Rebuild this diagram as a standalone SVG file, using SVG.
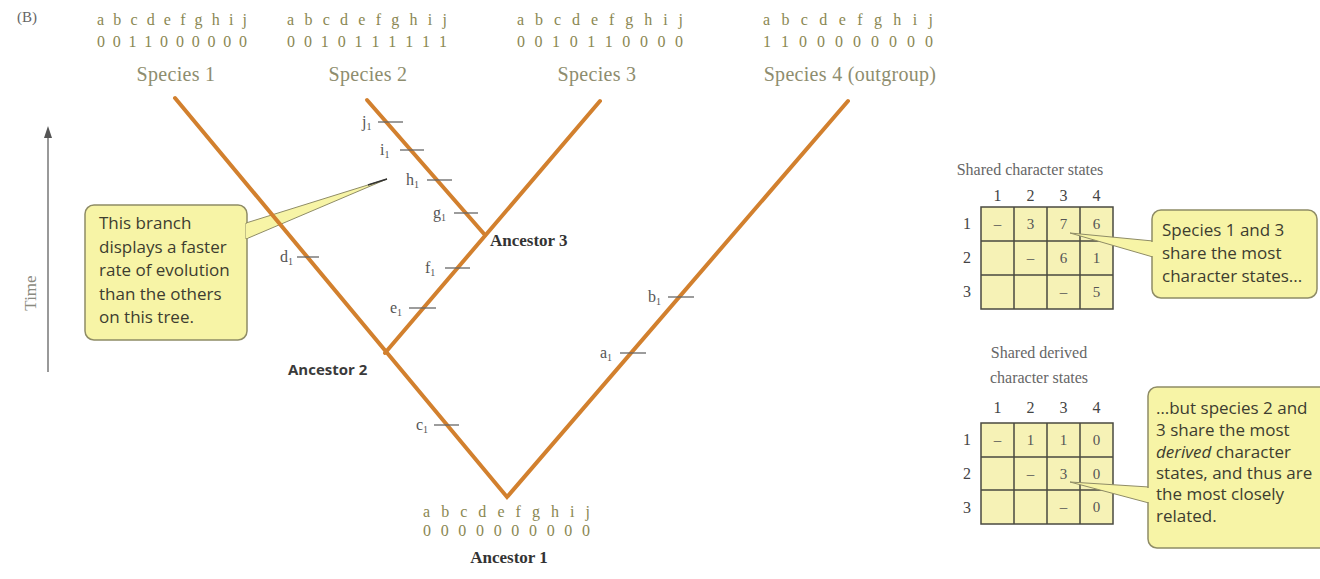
<svg xmlns="http://www.w3.org/2000/svg" width="1320" height="579" viewBox="0 0 1320 579">
<style>
.serif{font-family:"Liberation Serif","DejaVu Serif",serif}
.code{font-family:"Liberation Serif",serif;font-size:16px;fill:#8a8752}
.sp{font-family:"Liberation Serif",serif;font-size:20px;letter-spacing:0.3px;fill:#8e8d6e;text-anchor:middle}
.br{fill:none;stroke:#d2802e;stroke-width:4;stroke-linecap:round}
.tick{stroke:#666;stroke-width:1.3}
.ml{font-family:"Liberation Serif",serif;font-size:16px;fill:#555}
.anc{font-family:"Liberation Serif",serif;font-size:17px;font-weight:bold;fill:#333}
.call{fill:#f7f4a6;stroke:#8f8c66;stroke-width:1.5}
.ct{font-family:"Open Sans","Liberation Sans",sans-serif;font-size:17px;fill:#3d3d30}
.cell{fill:#f6f2b6;stroke:#4a4a40;stroke-width:1.5}
.num{font-family:"Liberation Serif",serif;font-size:15px;fill:#555;text-anchor:middle}
.hd{font-family:"Liberation Serif",serif;font-size:16px;fill:#444;text-anchor:middle}
.ttl{font-family:"Liberation Serif",serif;font-size:16px;fill:#666;text-anchor:middle}
</style>
<rect width="1320" height="579" fill="#fff"/>

<text x="17" y="22" class="serif" font-size="15" fill="#666">(B)</text>

<!-- Time axis -->
<g id="time-axis">
<line x1="48" y1="372" x2="48" y2="132" stroke="#777" stroke-width="1.5"/>
<path d="M44,138 L48,126 L52,138 Z" fill="#555"/>
<text x="36" y="293" class="serif" font-size="17" fill="#8a8a80" text-anchor="middle" transform="rotate(-90 36 293)">Time</text>
</g>

<!-- species headers -->
<g id="species1">
<text x="97" y="25" class="code" textLength="150" lengthAdjust="spacing">a b c d e f g h i j</text>
<text x="97" y="47" class="code" textLength="150" lengthAdjust="spacing">0 0 1 1 0 0 0 0 0 0</text>
<text x="176" y="81" class="sp">Species 1</text>
</g>
<g id="species2">
<text x="287" y="25" class="code" textLength="160" lengthAdjust="spacing">a b c d e f g h i j</text>
<text x="287" y="47" class="code" textLength="160" lengthAdjust="spacing">0 0 1 0 1 1 1 1 1 1</text>
<text x="368" y="81" class="sp">Species 2</text>
</g>
<g id="species3">
<text x="517" y="25" class="code" textLength="166" lengthAdjust="spacing">a b c d e f g h i j</text>
<text x="517" y="47" class="code" textLength="166" lengthAdjust="spacing">0 0 1 0 1 1 0 0 0 0</text>
<text x="597" y="81" class="sp">Species 3</text>
</g>
<g id="species4">
<text x="763" y="25" class="code" textLength="170" lengthAdjust="spacing">a b c d e f g h i j</text>
<text x="763" y="47" class="code" textLength="170" lengthAdjust="spacing">1 1 0 0 0 0 0 0 0 0</text>
<text x="850" y="81" class="sp">Species 4 (outgroup)</text>
</g>

<!-- left callout -->
<g id="callout-branch">
<rect x="85" y="205" width="162" height="135" rx="9" class="call"/>
<polygon points="246,223 387,179 246,239" fill="#f7f4a6" stroke="#8f8c66" stroke-width="1"/>
<line x1="247" y1="224" x2="247" y2="238" stroke="#f7f4a6" stroke-width="2"/>
<line x1="368" y1="185" x2="387" y2="179" stroke="#333" stroke-width="1.5"/>
<text class="ct"><tspan x="99" y="229">This branch</tspan><tspan x="99" y="253">displays a faster</tspan><tspan x="99" y="276">rate of evolution</tspan><tspan x="99" y="300">than the others</tspan><tspan x="99" y="323">on this tree.</tspan></text>
</g>

<!-- tree branches -->
<g id="connectors">
<polyline class="br" points="175,98 507,497 848,101"/>
<line class="br" x1="367" y1="100" x2="485" y2="235"/>
<line class="br" x1="600" y1="101" x2="385" y2="353"/>
</g>

<!-- character change marks -->
<g id="marks">
<line class="tick" x1="378" y1="122" x2="403" y2="122"/>
<text x="362" y="127" class="ml">j<tspan font-size="10" dy="3">1</tspan></text>
<line class="tick" x1="400" y1="150" x2="424" y2="150"/>
<text x="380" y="155" class="ml">i<tspan font-size="10" dy="3">1</tspan></text>
<line class="tick" x1="427" y1="180" x2="452" y2="180"/>
<text x="406" y="185" class="ml">h<tspan font-size="10" dy="3">1</tspan></text>
<line class="tick" x1="454" y1="213" x2="478" y2="213"/>
<text x="433" y="218" class="ml">g<tspan font-size="10" dy="3">1</tspan></text>
<line class="tick" x1="445" y1="268" x2="470" y2="268"/>
<text x="425" y="273" class="ml">f<tspan font-size="10" dy="3">1</tspan></text>
<line class="tick" x1="409" y1="308" x2="436" y2="308"/>
<text x="390" y="313" class="ml">e<tspan font-size="10" dy="3">1</tspan></text>
<line class="tick" x1="297" y1="257" x2="319" y2="257"/>
<text x="280" y="262" class="ml">d<tspan font-size="10" dy="3">1</tspan></text>
<line class="tick" x1="434" y1="425" x2="459" y2="425"/>
<text x="416" y="430" class="ml">c<tspan font-size="10" dy="3">1</tspan></text>
<line class="tick" x1="620" y1="353" x2="646" y2="353"/>
<text x="600" y="358" class="ml">a<tspan font-size="10" dy="3">1</tspan></text>
<line class="tick" x1="668" y1="297" x2="694" y2="297"/>
<text x="648" y="302" class="ml">b<tspan font-size="10" dy="3">1</tspan></text>
</g>

<g id="ancestor3"><text x="490" y="246" class="anc">Ancestor 3</text></g>
<g id="ancestor2"><text x="288" y="375" font-family="'Open Sans','Liberation Sans',sans-serif" font-size="15" font-weight="bold" fill="#3a3a3a">Ancestor 2</text></g>
<g id="ancestor1">
<text x="423" y="517" class="code" textLength="167" lengthAdjust="spacing">a b c d e f g h i j</text>
<text x="423" y="536" class="code" textLength="167" lengthAdjust="spacing">0 0 0 0 0 0 0 0 0 0</text>
<text x="509" y="563" class="anc" text-anchor="middle" font-weight="normal" fill="#333">Ancestor 1</text>
</g>

<!-- table 1 -->
<g id="table-shared">
<text x="1030" y="175" class="ttl">Shared character states</text>
<text x="997.5" y="201" class="hd">1</text><text x="1030.5" y="201" class="hd">2</text><text x="1063.5" y="201" class="hd">3</text><text x="1096.5" y="201" class="hd">4</text>
<text x="967" y="229" class="hd">1</text><text x="967" y="263" class="hd">2</text><text x="967" y="297" class="hd">3</text>
<rect x="981" y="207" width="132" height="102" class="cell"/>
<path d="M1014,207V309M1047,207V309M1080,207V309M981,241H1113M981,275H1113" stroke="#4a4a40" stroke-width="1.5"/>
<text x="997.5" y="229" class="num">–</text><text x="1030.5" y="229" class="num">3</text><text x="1063.5" y="229" class="num">7</text><text x="1096.5" y="229" class="num">6</text>
<text x="1030.5" y="263" class="num">–</text><text x="1063.5" y="263" class="num">6</text><text x="1096.5" y="263" class="num">1</text>
<text x="1063.5" y="297" class="num">–</text><text x="1096.5" y="297" class="num">5</text>
</g>
<g id="callout-shared">
<polygon points="1070,233 1153,241 1153,257" fill="#f7f4a6" stroke="#8f8c66" stroke-width="1"/>
<rect x="1152" y="210" width="165" height="88" rx="9" class="call"/>
<line x1="1152" y1="242" x2="1152" y2="256" stroke="#f7f4a6" stroke-width="2.5"/>
<text class="ct"><tspan x="1162" y="236">Species 1 and 3</tspan><tspan x="1162" y="259">share the most</tspan><tspan x="1162" y="282">character states...</tspan></text>
</g>

<!-- table 2 -->
<g id="table-derived">
<text x="1039" y="358" class="ttl">Shared derived</text>
<text x="1039" y="383" class="ttl">character states</text>
<text x="997.5" y="413" class="hd">1</text><text x="1030.5" y="413" class="hd">2</text><text x="1063.5" y="413" class="hd">3</text><text x="1096.5" y="413" class="hd">4</text>
<text x="967" y="445" class="hd">1</text><text x="967" y="479" class="hd">2</text><text x="967" y="513" class="hd">3</text>
<rect x="981" y="423" width="132" height="101" class="cell"/>
<path d="M1014,423V524M1047,423V524M1080,423V524M981,457H1113M981,490H1113" stroke="#4a4a40" stroke-width="1.5"/>
<text x="997.5" y="445" class="num">–</text><text x="1030.5" y="445" class="num">1</text><text x="1063.5" y="445" class="num">1</text><text x="1096.5" y="445" class="num">0</text>
<text x="1030.5" y="479" class="num">–</text><text x="1063.5" y="479" class="num">3</text><text x="1096.5" y="479" class="num">0</text>
<text x="1063.5" y="512" class="num">–</text><text x="1096.5" y="512" class="num">0</text>
</g>
<g id="callout-derived">
<polygon points="1070,482 1149,487 1149,503" fill="#f7f4a6" stroke="#8f8c66" stroke-width="1"/>
<rect x="1148" y="387" width="190" height="161" rx="9" class="call"/>
<line x1="1148" y1="488" x2="1148" y2="502" stroke="#f7f4a6" stroke-width="2.5"/>
<text class="ct" font-size="17.5"><tspan x="1156" y="414">…but species 2 and</tspan><tspan x="1156" y="436">3 share the most</tspan><tspan x="1156" y="458" font-style="italic">derived</tspan><tspan> character</tspan><tspan x="1156" y="479">states, and thus are</tspan><tspan x="1156" y="500">the most closely</tspan><tspan x="1156" y="522">related.</tspan></text>
</g>
</svg>
